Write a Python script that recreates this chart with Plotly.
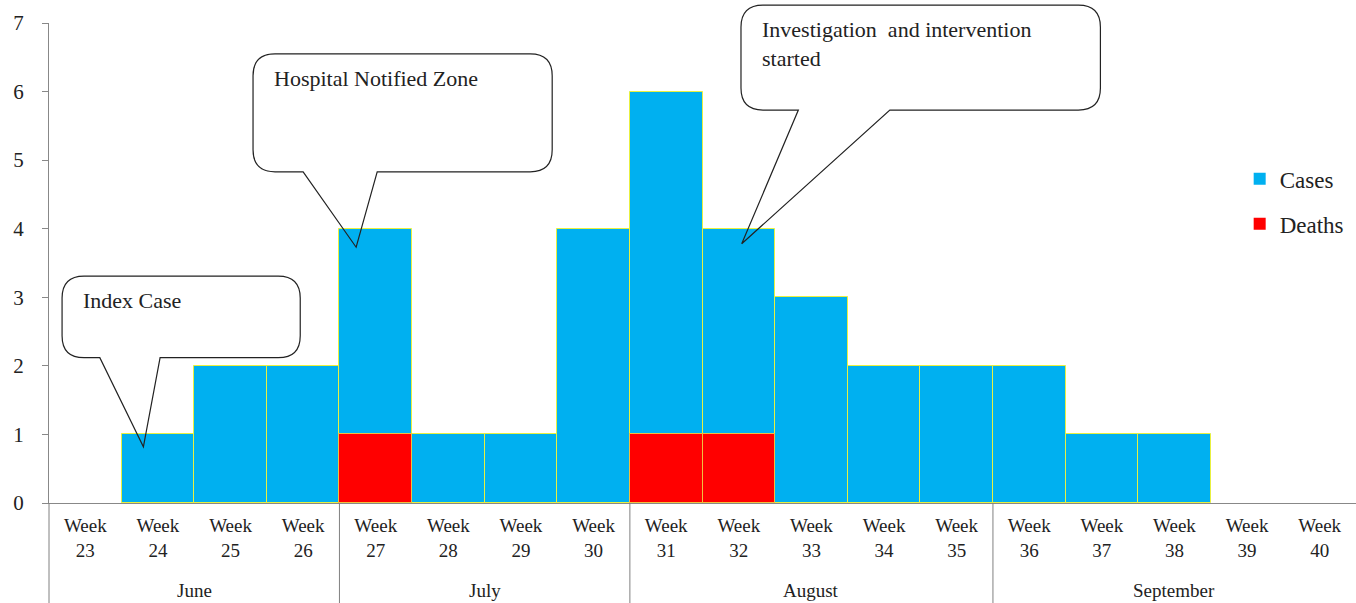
import plotly.graph_objects as go

weeks = [f"Week<br>{w}" for w in range(23, 41)]
cases = [0, 1, 2, 2, 4, 1, 1, 4, 6, 4, 3, 2, 2, 2, 1, 1, 0, 0]
deaths = [0, 0, 0, 0, 1, 0, 0, 0, 1, 1, 0, 0, 0, 0, 0, 0, 0, 0]
months = ["June", "July", "August", "September"]
month_sizes = [4, 4, 5, 5]

# callouts: (text lines, box x0, x1, y_top, y_bottom, pointer base x1, x2, tip x, tip y) in data units
callouts = [
    (["Index Case"], -0.32, 2.96, 3.31, 2.12, 0.20, 1.03, 0.80, 0.82),
    (["Hospital Notified Zone"], 2.31, 6.43, 6.55, 4.83, 3.00, 4.02, 3.73, 3.73),
    (["Investigation  and intervention", "started"], 9.03, 13.98, 7.26, 5.73, 9.82, 11.08, 9.04, 3.78),
]

N = len(weeks)
YMAX = 7
W, H = 1356, 603
ML, MR, MT, MB = 49, 0, 23, 100
PW, PH = W - ML - MR, H - MT - MB

xs = list(range(N))

def px(x):
    return (x + 0.5) / N

def py(y):
    return y / YMAX

fig = go.Figure()
fig.add_trace(go.Bar(x=xs, y=cases, name="Cases",
                     marker=dict(color="#00B0F0",
                                 line=dict(color="#E8F040", width=[1 if v else 0 for v in cases])),
                     legendgroup="c"))
fig.add_trace(go.Bar(x=xs, y=deaths, name="Deaths",
                     marker=dict(color="#FF0000",
                                 line=dict(color="#F0C040", width=[1 if v else 0 for v in deaths])),
                     legendgroup="d"))

shapes = []
start = 0
bounds = [0]
for s in month_sizes:
    start += s
    bounds.append(start)
for b in bounds[:-1]:
    shapes.append(dict(type="line", xref="paper", yref="paper", x0=px(b - 0.5), x1=px(b - 0.5),
                       y0=0, y1=-MB / PH, line=dict(color="#808080", width=1)))

annotations = []
for i, m in enumerate(months):
    c = (bounds[i] + bounds[i + 1] - 1) / 2
    annotations.append(dict(text=m, x=px(c), y=-87 / PH, xref="paper", yref="paper", showarrow=False,
                            xanchor="center", yanchor="middle", font=dict(size=19, color="#222")))

rx = 22 / PW
ry = 22 / PH
for lines, x0, x1, yt, yb, b1, b2, tx, ty in callouts:
    X0, X1, YT, YB = px(x0), px(x1), py(yt), py(yb)
    B1, B2, TX, TY = px(b1), px(b2), px(tx), py(ty)
    path = (f"M {X0+rx},{YT} L {X1-rx},{YT} Q {X1},{YT} {X1},{YT-ry} L {X1},{YB+ry} "
            f"Q {X1},{YB} {X1-rx},{YB} L {B2},{YB} L {TX},{TY} L {B1},{YB} L {X0+rx},{YB} "
            f"Q {X0},{YB} {X0},{YB+ry} L {X0},{YT-ry} Q {X0},{YT} {X0+rx},{YT} Z")
    shapes.append(dict(type="path", path=path, xref="paper", yref="paper",
                       line=dict(color="#222", width=1.2), fillcolor="rgba(0,0,0,0)", layer="above"))
    annotations.append(dict(text="<br>".join(lines), x=X0 + 19 / PW, y=YT - 10 / PH, xref="paper", yref="paper",
                            showarrow=False, xanchor="left", yanchor="top", align="left",
                            font=dict(size=22, color="#222")))

fig.update_layout(
    width=W, height=H,
    margin=dict(l=ML, r=MR, t=MT, b=MB, autoexpand=False),
    paper_bgcolor="white", plot_bgcolor="white",
    barmode="overlay", bargap=0,
    font=dict(family="Liberation Serif", color="#222"),
    shapes=shapes, annotations=annotations,
    showlegend=True,
    legend=dict(x=0.911, y=0.72, xanchor="left", yanchor="top", bgcolor="rgba(0,0,0,0)",
                font=dict(size=23, family="Liberation Serif"), traceorder="grouped", tracegroupgap=12,
                itemwidth=30),
    xaxis=dict(range=[-0.5, N - 0.5], tickvals=xs, ticktext=weeks, showgrid=False, zeroline=False,
               showline=True, linecolor="#888", linewidth=1, ticks="", tickfont=dict(size=19),
               ticklabelstandoff=5, automargin=False),
    yaxis=dict(range=[0, YMAX], dtick=1, showgrid=False, zeroline=False, showline=True,
               linecolor="#888", linewidth=1, ticks="outside", ticklen=6, tickcolor="#888",
               tickfont=dict(size=21), ticklabelstandoff=14, automargin=False),
)

fig.write_html("out.html", config={"displayModeBar": False},
               post_script="document.body.style.margin='0';document.body.style.overflow='hidden';")
